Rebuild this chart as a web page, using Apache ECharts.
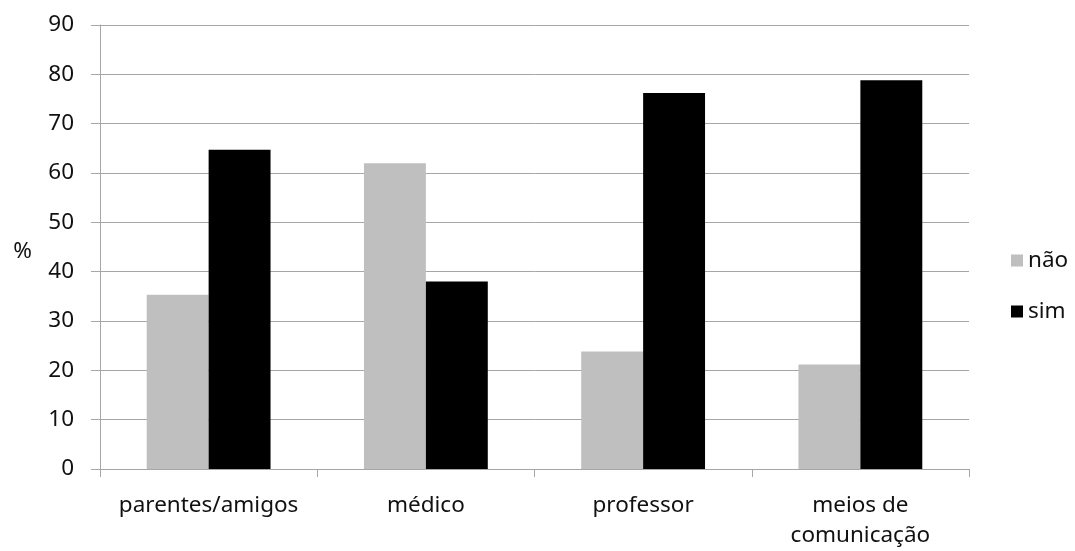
<!DOCTYPE html>
<html>
<head>
<meta charset="utf-8">
<style>
  html, body { margin: 0; padding: 0; background: #ffffff; }
  #chart { width: 1075px; height: 551px; }
</style>
<script src="https://cdn.jsdelivr.net/npm/echarts@6/dist/echarts.min.js"></script>
</head>
<body>
<div id="chart"></div>
<script>
// Sources of information, share of answers (%)
const categories = ['parentes/amigos', 'médico', 'professor', 'meios de\ncomunicação'];
const naoValues = [35.3, 62.0, 23.8, 21.2];
const simValues = [64.7, 38.0, 76.2, 78.8];
const seriesNames = ['não', 'sim'];

const FONT = '"Noto Sans", "Open Sans", sans-serif';
const FONT_SIZE = 22.5;
const TEXT_COLOR = '#111111';
const GRID_GRAY = '#a6a6a6';

const chart = echarts.init(document.getElementById('chart'), null, { renderer: 'canvas' });

chart.setOption({
  animation: false,
  backgroundColor: '#ffffff',
  textStyle: { fontFamily: FONT, color: TEXT_COLOR },
  grid: { left: 100, right: 106, top: 25, bottom: 77, containLabel: false },
  legend: {
    data: seriesNames,
    orient: 'vertical',
    left: 1011,
    top: 249,
    padding: 0,
    itemWidth: 12,
    itemHeight: 12,
    itemGap: 28,
    icon: 'rect',
    textStyle: { fontFamily: FONT, fontSize: FONT_SIZE, color: TEXT_COLOR }
  },
  xAxis: {
    type: 'category',
    data: categories,
    axisLine: { lineStyle: { color: GRID_GRAY, width: 1 } },
    axisTick: { show: true, length: 8, lineStyle: { color: GRID_GRAY } },
    axisLabel: {
      fontFamily: FONT, fontSize: FONT_SIZE, color: TEXT_COLOR,
      margin: 22, lineHeight: 30, interval: 0
    }
  },
  yAxis: {
    type: 'value',
    min: 0,
    max: 90,
    interval: 10,
    name: '%',
    nameLocation: 'middle',
    nameRotate: 0,
    nameGap: 68,
    nameTextStyle: {
      fontFamily: FONT, fontSize: FONT_SIZE, color: TEXT_COLOR,
      verticalAlign: 'top', lineHeight: 9
    },
    axisLine: { show: true, lineStyle: { color: GRID_GRAY, width: 1 } },
    axisTick: { show: true, length: 9, lineStyle: { color: GRID_GRAY } },
    axisLabel: { fontFamily: FONT, fontSize: FONT_SIZE, color: TEXT_COLOR, margin: 26 },
    splitLine: { show: true, lineStyle: { color: GRID_GRAY, width: 1 } }
  },
  series: [
    {
      name: seriesNames[0],
      type: 'bar',
      data: naoValues,
      barGap: '0%',
      barCategoryGap: '43%',
      itemStyle: { color: '#bfbfbf' }
    },
    {
      name: seriesNames[1],
      type: 'bar',
      data: simValues,
      barGap: '0%',
      barCategoryGap: '43%',
      itemStyle: { color: '#000000' }
    }
  ]
});
</script>
</body>
</html>
